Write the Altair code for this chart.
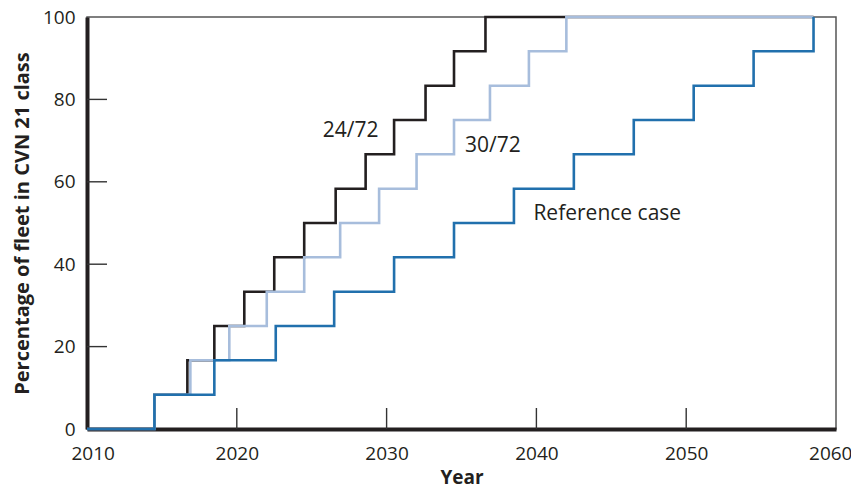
import altair as alt
import pandas as pd

# Fleet share steps (percent of fleet in CVN 21 class)
pct_steps = [0, 8.3, 16.7, 25, 33.3, 41.7, 50, 58.3, 66.7, 75, 83.3, 91.7, 100]

years_2472 = [2010, 2014.5, 2016.7, 2018.5, 2020.5, 2022.5, 2024.5, 2026.6, 2028.6,
              2030.5, 2032.6, 2034.5, 2036.6, 2058.5]
pct_2472 = pct_steps + [100]

years_3072 = [2010, 2014.5, 2016.9, 2019.5, 2022.0, 2024.5, 2026.9, 2029.5, 2032.0,
              2034.5, 2036.9, 2039.5, 2042.0, 2058.5]
pct_3072 = pct_steps + [100]

years_ref = [2010, 2014.5, 2018.5, 2022.6, 2026.5, 2030.5, 2034.5, 2038.5, 2042.5,
             2046.5, 2050.5, 2054.5, 2058.5]
pct_ref = pct_steps

x_ticks = [2010, 2020, 2030, 2040, 2050, 2060]
y_ticks = [0, 20, 40, 60, 80, 100]
inner_x_ticks = [2020, 2030, 2040, 2050]
inner_y_ticks = [20, 40, 60, 80]

label_text = ["24/72", "30/72", "Reference case"]
label_x = [2027.6, 2037.1, 2039.8]
label_y = [72.3, 68.6, 52.3]
label_align = ["center", "center", "left"]

FONT = "Open Sans"
BLACK = "#231f20"
LIGHT = "#a7bddc"
BLUE = "#2170ad"

xs = alt.Scale(domain=[2010, 2060], nice=False, zero=False)
ys = alt.Scale(domain=[0, 100], nice=False)

df_2472 = pd.DataFrame({"year": years_2472, "pct": pct_2472})
df_3072 = pd.DataFrame({"year": years_3072, "pct": pct_3072})
df_ref = pd.DataFrame({"year": years_ref, "pct": pct_ref})

x_axis = alt.Axis(values=x_ticks, format="d", title="Year", ticks=False, grid=False,
                  labelFlush=True, labelFlushOffset=16, labelOverlap=False,
                  labelPadding=15, titlePadding=5, titleFontSize=19)
y_axis = alt.Axis(values=y_ticks, title="Percentage of fleet in CVN 21 class",
                  ticks=False, grid=False, labelPadding=12, titlePadding=10,
                  labelOverlap=False, labelFlush=False)

X = alt.X("year:Q", scale=xs, axis=x_axis)
Y = alt.Y("pct:Q", scale=ys, axis=y_axis)

line_2472 = alt.Chart(df_2472).mark_line(
    interpolate="step-after", color=BLACK, strokeWidth=2.6
).encode(x=X, y=Y)
line_3072 = alt.Chart(df_3072).mark_line(
    interpolate="step-after", color=LIGHT, strokeWidth=2.6
).encode(x=X, y=Y)
line_ref = alt.Chart(df_ref).mark_line(
    interpolate="step-after", color=BLUE, strokeWidth=2.6
).encode(x=X, y=Y)

xt = alt.Chart(pd.DataFrame({"year": inner_x_ticks})).mark_rule(
    color="#333333", strokeWidth=1.4
).encode(
    x=X,
    y=alt.value(412),
    y2=alt.value(391),
)
yt = alt.Chart(pd.DataFrame({"pct": inner_y_ticks})).mark_rule(
    color="#333333", strokeWidth=1.4
).encode(
    y=Y,
    x=alt.value(0),
    x2=alt.value(20),
)

labels_df = pd.DataFrame({"label": label_text, "year": label_x, "pct": label_y,
                          "align": label_align})
lab_center = alt.Chart(labels_df[labels_df["align"] == "center"]).mark_text(
    font=FONT, fontSize=21, color=BLACK, align="center", baseline="middle"
).encode(x=X, y=Y, text="label:N")
lab_left = alt.Chart(labels_df[labels_df["align"] == "left"]).mark_text(
    font=FONT, fontSize=21, color=BLACK, align="left", baseline="middle"
).encode(x=X, y=Y, text="label:N")

chart = alt.layer(
    line_2472, xt, yt, line_3072, line_ref, lab_center, lab_left
).properties(
    width=749, height=412,
    autosize=alt.AutoSizeParams(type="none"),
    padding={"left": 79, "top": 9, "right": 15, "bottom": 60},
).configure_view(
    stroke="#555555", strokeWidth=1.5
).configure_axis(
    domainColor=BLACK, domainWidth=4,
    labelFont=FONT, labelFontSize=19, labelColor=BLACK,
    titleFont=FONT, titleFontSize=20, titleFontWeight="bold", titleColor=BLACK,
)

chart.save("out.html", embed_options={"renderer": "svg", "actions": False})
